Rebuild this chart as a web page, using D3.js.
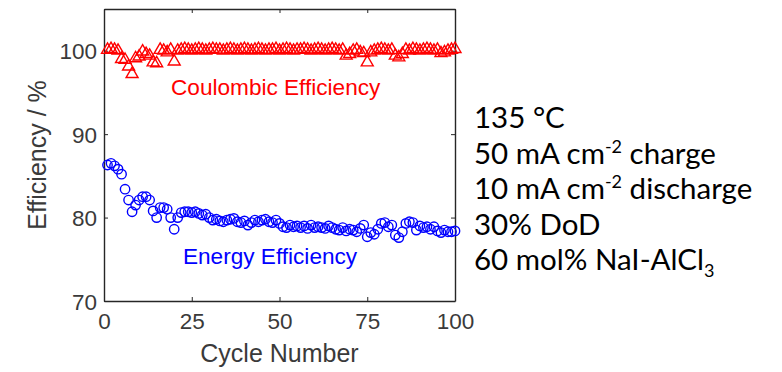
<!DOCTYPE html>
<html>
<head>
<meta charset="utf-8">
<script src="https://cdn.jsdelivr.net/npm/d3@7"></script>
<style>
  body { margin: 0; background: #fff; }
</style>
</head>
<body>
<div id="chart"></div>
<script>
(function() {

  // cycle number on x, efficiency in % on y
  var cycles = d3.range(1, 101);

  var coulombic = [
    100.1, 100.2, 100.1, 100.0, 99.0, 98.9, 98.1, 97.2, 99.1, 99.3,
    99.9, 99.6, 99.4, 98.6, 98.5, 100.1, 100.0, 99.8, 100.1, 98.7,
    100.0, 100.1, 100.2, 100.1, 100.0, 100.1, 100.2, 100.1, 100.0, 100.1,
    100.2, 100.1, 100.1, 100.0, 100.1, 100.2, 100.1, 100.0, 100.1, 100.2,
    100.1, 100.0, 100.1, 100.2, 100.1, 100.0, 100.1, 100.1, 100.2, 100.0,
    100.1, 100.2, 100.1, 100.0, 100.1, 100.1, 100.2, 100.1, 100.0, 100.1,
    100.2, 100.1, 100.0, 100.1, 100.2, 100.1, 100.0, 100.1, 99.4, 99.6,
    100.0, 100.1, 99.8, 99.7, 98.6, 99.8, 100.0, 100.1, 100.2, 100.1,
    100.0, 100.1, 99.4, 99.2, 99.6, 100.1, 100.0, 100.2, 100.1, 100.0,
    100.1, 100.2, 100.1, 100.0, 100.1, 99.7, 99.8, 100.0, 100.1, 100.2
  ];

  var energy = [
    86.3, 86.5, 86.2, 85.8, 85.2, 83.4, 82.1, 80.7, 81.5, 82.1,
    82.5, 82.5, 82.1, 80.8, 80.0, 81.2, 81.2, 81.0, 80.0, 78.6,
    80.0, 80.6, 80.7, 80.7, 80.6, 80.7, 80.5, 80.3, 80.4, 80.0,
    79.7, 79.8, 79.6, 79.5, 79.7, 79.8, 79.9, 79.5, 79.4, 79.6,
    79.1, 79.4, 79.7, 79.5, 79.7, 79.8, 79.5, 79.4, 79.7, 79.3,
    78.9, 78.8, 79.1, 78.9, 79.0, 78.8, 79.0, 78.7, 79.1, 78.8,
    78.9, 78.8, 78.7, 79.0, 78.8, 78.6, 78.5, 78.8, 78.4, 78.6,
    78.5, 78.3, 78.7, 79.1, 77.7, 78.2, 78.0, 78.6, 79.3, 79.4,
    78.9, 79.1, 77.9, 77.6, 78.3, 79.3, 79.5, 79.4, 78.5, 79.0,
    78.8, 78.9, 78.6, 78.9, 78.4, 78.2, 78.5, 78.3, 78.3, 78.4
  ];

  var xTicks = [0, 25, 50, 75, 100];
  var yTicks = [70, 80, 90, 100];
  var conditions = ["135 °C", "50 mA cm|-2| charge", "10 mA cm|-2| discharge", "30% DoD", "60 mol% NaI-AlCl_3_"];

  var width = 782, height = 372;
  var pad = { top: 9, left: 104, right: 327, bottom: 71 };
  var axisColor = "#262626";
  var font = "Liberation Sans";

  var x = d3.scaleLinear().domain([0, 100])
    .range([pad.left, width - pad.right]);
  var y = d3.scaleLinear().domain([70, 105])
    .range([height - pad.bottom, pad.top]);

  var svg = d3.select("#chart").append("svg")
    .attr("width", width)
    .attr("height", height);

  // axes, ticks inward like matlab
  var gx = svg.append("g")
    .attr("transform", "translate(0," + y.range()[0] + ")")
    .call(d3.axisBottom(x).tickValues(xTicks).tickSize(-4).tickSizeOuter(0).tickPadding(12));
  var gxTop = svg.append("g")
    .attr("transform", "translate(0," + y.range()[1] + ")")
    .call(d3.axisTop(x).tickValues(xTicks).tickSize(-4).tickSizeOuter(0).tickFormat(""));
  var gy = svg.append("g")
    .attr("transform", "translate(" + x.range()[0] + ",0)")
    .call(d3.axisLeft(y).tickValues(yTicks).tickSize(-4).tickSizeOuter(0).tickPadding(7));
  var gyRight = svg.append("g")
    .attr("transform", "translate(" + x.range()[1] + ",0)")
    .call(d3.axisRight(y).tickValues(yTicks).tickSize(-4).tickSizeOuter(0).tickFormat(""));

  [gx, gxTop, gy, gyRight].forEach(function(g) {
    g.attr("font-family", font).attr("font-size", 22.5);
    g.selectAll(".domain").attr("stroke", axisColor).attr("stroke-width", 1.4);
    g.selectAll(".tick line").attr("stroke", axisColor);
    g.selectAll(".tick text").attr("fill", "#3a3a3a");
  });
  gy.selectAll(".tick text").attr("dy", "0.36em");

  svg.append("text")
    .attr("x", (x.range()[0] + x.range()[1]) / 2)
    .attr("y", 362)
    .attr("text-anchor", "middle")
    .attr("font-family", font)
    .attr("font-size", 25)
    .attr("fill", "#3a3a3a")
    .text("Cycle Number");

  svg.append("text")
    .attr("transform", "translate(46," + (y.range()[0] + y.range()[1]) / 2 + ") rotate(-90)")
    .attr("text-anchor", "middle")
    .attr("font-family", font)
    .attr("font-size", 25)
    .attr("fill", "#3a3a3a")
    .text("Efficiency / %");

  // coulombic efficiency, triangles
  var tri = d3.symbol().type(d3.symbolTriangle).size(62);
  svg.append("g").selectAll("path")
    .data(coulombic)
    .enter().append("path")
    .attr("d", tri)
    .attr("transform", function(d, i) {
      return "translate(" + x(cycles[i]) + "," + y(d) + ")";
    })
    .attr("fill", "none")
    .attr("stroke", "#ff0000")
    .attr("stroke-width", 1.4);

  // energy efficiency, circles
  svg.append("g").selectAll("circle")
    .data(energy)
    .enter().append("circle")
    .attr("cx", function(d, i) { return x(cycles[i]); })
    .attr("cy", function(d) { return y(d); })
    .attr("r", 4.7)
    .attr("fill", "none")
    .attr("stroke", "#0000ff")
    .attr("stroke-width", 1.4);

  svg.append("text")
    .attr("x", x(19.1))
    .attr("y", y(94.7))
    .attr("font-family", font)
    .attr("font-size", 22.6)
    .attr("fill", "#ff0000")
    .text("Coulombic Efficiency");

  svg.append("text")
    .attr("x", x(22.5))
    .attr("y", y(74.4))
    .attr("font-family", font)
    .attr("font-size", 22.6)
    .attr("fill", "#0000ff")
    .text("Energy Efficiency");

  // test conditions on the right; |..| superscript, _.._ subscript
  var notes = svg.append("g")
    .attr("font-family", "Lato")
    .attr("font-size", 29.5)
    .attr("fill", "#000");
  conditions.forEach(function(line, i) {
    var t = notes.append("text")
      .attr("x", 474)
      .attr("y", 128 + i * 35.5);
    var shift = 0;
    line.split(/(\|[^|]*\||_[^_]*_)/).forEach(function(p) {
      if (!p) return;
      if (p[0] === "|" || p[0] === "_") {
        var up = p[0] === "|" ? -11 : 7;
        t.append("tspan").attr("font-size", 18).attr("dy", up).text(p.slice(1, -1));
        shift = -up;
      } else {
        t.append("tspan").attr("dy", shift).text(p);
        shift = 0;
      }
    });
  });

})();
</script>
</body>
</html>
